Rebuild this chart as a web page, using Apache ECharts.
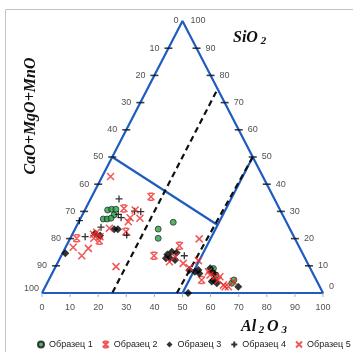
<!DOCTYPE html>
<html>
<head>
<meta charset="utf-8">
<script src="https://cdn.jsdelivr.net/npm/echarts@6/dist/echarts.min.js"></script>
<style>
  html, body { margin: 0; padding: 0; background: #fff; }
  #chart { width: 353px; height: 352px; }
</style>
</head>
<body>
<div id="chart"></div>
<script>
// точки: [Al2O3, SiO2], CaO+MgO+MnO = 100 - Al2O3 - SiO2
const sample1 = [
  [8.1, 30.5], [9.4, 30.8], [10.9, 30.8], [11.3, 28.7], [8.2, 27.2], [9.6, 27.2], [10.8, 27.5],
  [33.7, 26], [29.6, 23.5], [31.3, 20.1], [56.5, 9], [58.6, 6.6], [65.7, 3.6], [65.9, 4.8]
];
const sample2 = [
  [21.1, 35.4], [18.6, 22.5], [10.8, 19.2], [2.3, 20.1], [40.2, 17.4], [33, 13.7], [54.4, 4.8], [13.6, 31.1]
];
const sample3 = [
  [14, 23.4], [15.3, 23.4], [10.1, 21.1], [7.9, 21.9], [1, 14.6], [37.5, 14.2], [38.6, 15.2],
  [39.2, 12.8], [41.3, 12.1], [37.7, 12.8], [40.5, 14.8], [48.2, 8.5], [50.5, 7.8], [51.4, 8.5],
  [52.4, 7.2], [55.3, 9.1], [56.5, 7.8], [57.6, 7.2], [58.6, 4.8], [58.3, 4.2], [60.4, 3.6],
  [68.7, 2.3], [52, 0]
];
const sample4 = [
  [10.1, 34.6], [17.9, 30.1], [20.2, 29.9], [12.7, 28.9], [14.3, 27.7], [8.9, 24.2], [19.5, 21.3],
  [0, 26.6], [5, 20.7], [43.8, 13.7]
];
const sample5 = [
  [3, 42.8], [17.9, 30.5], [17.5, 27.7], [21.1, 27.5], [17.6, 26.2], [21.5, 9.7], [12.1, 23.8],
  [8.3, 22.3], [7.5, 21.6], [10.3, 20.7], [8.4, 20.1], [2.7, 16.8], [8.3, 16.4], [7.3, 13.7],
  [46, 19.9], [39.6, 11.5], [40.7, 13.3], [44.8, 10.9], [47.8, 9.3], [49.7, 11.9], [55.3, 7.8],
  [56.5, 6.6], [58.6, 6], [60.3, 6], [60.3, 4.8], [63.1, 2.9], [64, 2.3], [65.2, 2.3], [66, 4.2]
];
const seriesNames = ['Образец 1', 'Образец 2', 'Образец 3', 'Образец 4', 'Образец 5'];
const sideTicks = [10, 20, 30, 40, 50, 60, 70, 80, 90];
const bottomTicks = [0, 10, 20, 30, 40, 50, 60, 70, 80, 90, 100];

// линии на диаграмме, тоже в [Al2O3, SiO2]
const blueLine1 = [[0, 50], [50, 25]];
const blueLine2 = [[50, 50], [50, 0]];
const dashLine1 = [[25, 74], [25, 0]];
const dashLine2 = [[50, 50], [48, 0]];

const blue = '#1f5cbf';
const red = '#ee2a2a';
const labelFont = '"Liberation Sans", Arial, sans-serif';
const titleFont = '"Liberation Serif", "Times New Roman", serif';

// тернарные -> плоскость
const toXY = (al, si) => [al + si / 2, si];
const conv = (arr) => arr.map(p => toXY(p[0], p[1]));

const lineSeries = (pts, color, type) => ({
  type: 'line', data: conv(pts), symbol: 'none', silent: true, z: 1,
  lineStyle: { color: color, width: 2.2, type: type || 'solid' }
});

let chart = echarts.init(document.getElementById('chart'));

const leftTickData = sideTicks.map(c => ({ value: toXY(0, 100 - c), name: String(c) }));
leftTickData.push({ value: toXY(0, 100), name: '0', symbolSize: 0, label: { distance: 4 } });
leftTickData.push({ value: toXY(0, 0), name: '100', symbolSize: 0, label: { distance: 3, offset: [0, -4] } });

const rightTickData = sideTicks.map(s => ({ value: toXY(100 - s, s), name: String(s) }));
rightTickData.push({ value: toXY(0, 100), name: '100', symbolSize: 0, label: { distance: 8 } });
rightTickData.push({ value: toXY(100, 0), name: '0', symbolSize: 0, label: { distance: 6, offset: [0, -6] } });

const bottomTickData = bottomTicks.map(a => ({ value: toXY(a, 0), name: String(a) }));

const tickLabel = (pos, dist) => ({
  show: true, position: pos, distance: dist, formatter: '{b}',
  fontSize: 9, color: '#222', fontFamily: labelFont
});

const sampleStyle = [
  { symbol: 'circle', symbolSize: 6, itemStyle: { color: '#2a9d47', borderColor: '#111', borderWidth: 0.8 } },
  { symbol: 'path://M0,0L10,10M10,0L0,10M2,0L8,0M2,10L8,10', symbolSize: 7, itemStyle: { color: red, borderColor: red, borderWidth: 1.5 } },
  { symbol: 'diamond', symbolSize: 8, itemStyle: { color: '#000' } },
  { symbol: 'path://M5,0L5,10M0,5L10,5', symbolSize: 7, itemStyle: { color: '#000', borderColor: '#000', borderWidth: 1.3 } },
  { symbol: 'path://M0,0L10,10M10,0L0,10', symbolSize: 7, itemStyle: { color: red, borderColor: red, borderWidth: 1.5 } }
];
const samples = [sample1, sample2, sample3, sample4, sample5];

let option = {
  animation: false,
  grid: { left: 42, top: 21, width: 281, height: 272 },
  xAxis: { type: 'value', min: 0, max: 100, show: false },
  yAxis: { type: 'value', min: 0, max: 100, show: false },
  title: [
    {
      text: '{a|SiO}{b| 2}', left: 228, top: 24,
      textStyle: { rich: {
        a: { fontFamily: titleFont, fontSize: 16, fontWeight: 'bold', fontStyle: 'italic', color: '#111' },
        b: { fontFamily: titleFont, fontSize: 11, fontWeight: 'bold', fontStyle: 'italic', color: '#111', padding: [7, 0, 0, 0] }
      } }
    },
    {
      text: '{a|Al}{b| 2 }{a|O}{b| 3}', left: 236, top: 313,
      textStyle: { rich: {
        a: { fontFamily: titleFont, fontSize: 16, fontWeight: 'bold', fontStyle: 'italic', color: '#111' },
        b: { fontFamily: titleFont, fontSize: 11, fontWeight: 'bold', fontStyle: 'italic', color: '#111', padding: [7, 0, 0, 0] }
      } }
    }
  ],
  graphic: [
    { type: 'rect', silent: true, shape: { x: 5.5, y: 9.5, width: 500, height: 500 }, style: { fill: 'none', stroke: '#c4c4c4', lineWidth: 1 } },
    {
      type: 'text', x: 31, y: 116, rotation: Math.PI / 2, silent: true,
      style: { text: 'CaO+MgO+MnO', font: 'italic bold 16px ' + titleFont, fill: '#111', align: 'center', verticalAlign: 'middle' }
    }
  ],
  legend: {
    data: seriesNames, left: 37, top: 340, width: 316, itemWidth: 6, itemHeight: 6, itemGap: 9, padding: 0,
    textStyle: { fontSize: 9, color: '#222', fontFamily: labelFont }
  },
  series: [
    lineSeries([[0, 0], [100, 0], [0, 100], [0, 0]], blue),
    lineSeries(blueLine1, blue),
    lineSeries(blueLine2, blue),
    lineSeries(dashLine1, '#111', [6, 4]),
    lineSeries(dashLine2, '#111', [6, 4]),
    {
      type: 'scatter', silent: true, z: 3, data: leftTickData,
      symbol: 'rect', symbolSize: [8, 1.6], itemStyle: { color: '#111' },
      label: tickLabel('left', 5)
    },
    {
      type: 'scatter', silent: true, z: 3, data: rightTickData,
      symbol: 'rect', symbolSize: [8, 1.6], itemStyle: { color: '#111' },
      label: tickLabel('right', 5)
    },
    {
      type: 'scatter', silent: true, z: 3, data: bottomTickData,
      symbol: 'rect', symbolSize: [1, 4], symbolOffset: [0, 2], itemStyle: { color: '#999' },
      label: tickLabel('bottom', 6)
    }
  ].concat(samples.map((d, i) => Object.assign({
    name: seriesNames[i], type: 'scatter', z: 5, data: conv(d)
  }, sampleStyle[i])))
};

chart.setOption(option);
</script>
</body>
</html>
